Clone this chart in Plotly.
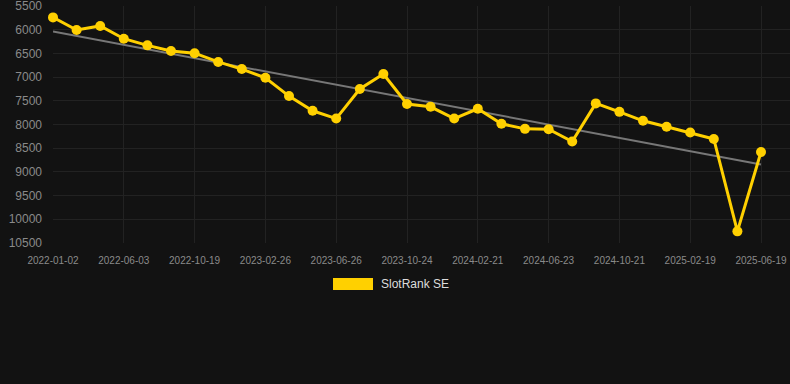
import numpy as np
import plotly.graph_objects as go

dates = ["2022-01-02", "2022-02-21", "2022-04-12", "2022-06-03", "2022-07-19", "2022-09-03",
         "2022-10-19", "2022-12-01", "2023-01-13", "2023-02-26", "2023-04-07", "2023-05-17",
         "2023-06-26", "2023-08-05", "2023-09-14", "2023-10-24", "2023-12-03", "2024-01-12",
         "2024-02-21", "2024-04-01", "2024-05-12", "2024-06-23", "2024-08-02", "2024-09-11",
         "2024-10-21", "2024-11-30", "2025-01-09", "2025-02-19", "2025-03-31", "2025-05-10",
         "2025-06-19"]
rank = [5740, 6005, 5920, 6190, 6330, 6450, 6495, 6680, 6830, 7015, 7400, 7710, 7875, 7250,
        6935, 7567, 7627, 7875, 7668, 7985, 8092, 8100, 8360, 7555, 7733, 7922, 8048, 8170,
        8306, 10255, 8580]
tick_labels = dates[::3]
y_ticks = [5500, 6000, 6500, 7000, 7500, 8000, 8500, 9000, 9500, 10000, 10500]
series_name = "SlotRank SE"

idx = np.arange(len(rank))
slope, intercept = np.polyfit(idx, rank, 1)
trend = (slope * idx + intercept).tolist()

YELLOW = "#FFD000"
BG = "#121212"
GRID = "#222222"

fig = go.Figure()
fig.add_trace(go.Scatter(x=[dates[0], dates[-1]], y=[trend[0], trend[-1]], mode="lines",
                         line=dict(color="#777777", width=2), showlegend=False, hoverinfo="skip"))
fig.add_trace(go.Scatter(x=dates, y=rank, mode="lines+markers", name=series_name,
                         line=dict(color=YELLOW, width=3), marker=dict(color=YELLOW, size=10),
                         showlegend=False, cliponaxis=False))

L, R, T, B = 53, 0, 6, 141
W, H = 790, 384
pw = W - L - R
ph = H - T - B
step = (761 - 53) / 30.0
right_idx = (W - R - 53) / step

fig.update_layout(
    width=W, height=H,
    margin=dict(l=L, r=R, t=T, b=B),
    paper_bgcolor=BG, plot_bgcolor=BG,
    font=dict(family="Arial, Liberation Sans, sans-serif"),
    xaxis=dict(type="category", categoryorder="array", categoryarray=dates,
               range=[0, right_idx], tickmode="array", tickvals=tick_labels, ticktext=tick_labels,
               showgrid=True, gridcolor=GRID, gridwidth=1, zeroline=False, showline=False,
               tickfont=dict(size=10, color="#8a8a8a"), ticks="", ticklabelstandoff=10,
               ticklabeloverflow="allow"),
    yaxis=dict(range=[10500.5, 5499.5], tickmode="array", tickvals=y_ticks,
               ticktext=[str(v) for v in y_ticks],
               showgrid=True, gridcolor=GRID, gridwidth=1, zeroline=False, showline=False,
               tickfont=dict(size=12, color="#8a8a8a"), ticks="", ticklabelstandoff=10,
               ticklabeloverflow="allow"),
    showlegend=False,
)

def px_x(p):
    return (p - L) / pw

def px_y(p):
    return (H - B - p) / ph

fig.add_shape(type="rect", xref="paper", yref="paper",
              x0=px_x(333), x1=px_x(373), y0=px_y(290), y1=px_y(278),
              fillcolor=YELLOW, line=dict(width=0))
fig.add_annotation(text=series_name, xref="paper", yref="paper", x=px_x(379), y=px_y(284),
                   xanchor="left", yanchor="middle", showarrow=False,
                   font=dict(size=12, color="#dddddd"))

fig.write_html("out.html", config={"displayModeBar": False},
               post_script="document.body.style.margin='0';document.body.style.background='#121212';")
